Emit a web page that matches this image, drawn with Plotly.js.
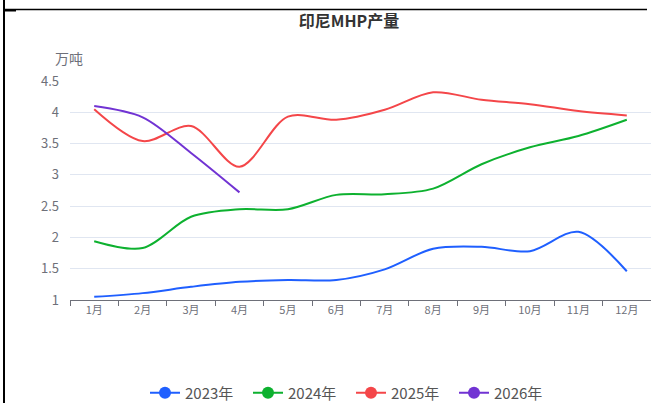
<!DOCTYPE html>
<html>
<head>
<meta charset="utf-8">
<script src="https://cdn.plot.ly/plotly-3.0.1.min.js"></script>
<style>html,body{margin:0;padding:0;background:#fff;}#chart{width:651px;height:403px;}</style>
</head>
<body>
<div id="chart"></div>
<script>
const months = ['1月','2月','3月','4月','5月','6月','7月','8月','9月','10月','11月','12月'];
const seriesNames = ['2023年','2024年','2025年','2026年'];
const y2023 = [1.05, 1.11, 1.21, 1.29, 1.32, 1.32, 1.49, 1.82, 1.85, 1.78, 2.09, 1.46];
const y2024 = [1.94, 1.83, 2.33, 2.45, 2.45, 2.68, 2.69, 2.78, 3.17, 3.44, 3.62, 3.88];
const y2025 = [4.05, 3.54, 3.78, 3.13, 3.93, 3.88, 4.04, 4.32, 4.20, 4.13, 4.02, 3.95];
const y2026 = [4.10, 3.92, 3.35, 2.72];
const colors = ['#1f5fff', '#0db12f', '#f44649', '#7133d3'];

const allY = [y2023, y2024, y2025, y2026];
const traces = [];
allY.forEach((ys, i) => {
  traces.push({
    x: months.slice(0, ys.length), y: ys, type: 'scatter', mode: 'lines',
    line: {color: colors[i], width: 2, shape: 'spline', smoothing: 0.9},
    showlegend: false, hoverinfo: 'x+y', name: seriesNames[i]
  });
});
allY.forEach((ys, i) => {
  traces.push({
    x: [null], y: [null], type: 'scatter', mode: 'lines+markers',
    line: {color: colors[i], width: 2}, marker: {color: colors[i], size: 12},
    name: seriesNames[i], showlegend: true
  });
});

const L = 70, R = 651, T = 81, B = 300;
const px = v => (v - L) / (R - L);
const py = v => (B - v) / (B - T);

const layout = {
  width: 651, height: 403,
  margin: {l: 70, r: 0, t: 81, b: 103, autoexpand: false},
  paper_bgcolor: '#ffffff', plot_bgcolor: '#ffffff',
  font: {family: '"Noto Sans CJK SC", "Noto Sans", sans-serif', color: '#6e7079'},
  title: {text: '<b>印尼MHP产量</b>', x: 349/651, xanchor: 'center', xref: 'container',
          y: 1 - 21/403, yanchor: 'middle', yref: 'container',
          font: {size: 16, color: '#333333', family: '"Noto Sans CJK SC", sans-serif'}},
  xaxis: {
    type: 'category', categoryorder: 'array', categoryarray: months,
    range: [-0.5, 11.5], tickson: 'boundaries', ticks: 'outside', ticklen: 5,
    tickcolor: '#6e7079', showline: true, linecolor: '#6e7079', linewidth: 1,
    showgrid: false, zeroline: false, tickfont: {size: 11, color: '#6e7079'}, fixedrange: true
  },
  yaxis: {
    range: [1, 4.5], dtick: 0.5, tick0: 1, showgrid: true, gridcolor: '#e0e6f1', gridwidth: 1,
    showline: false, zeroline: false, ticks: '', ticklabelstandoff: 10,
    tickfont: {size: 13, color: '#6e7079'}, fixedrange: true
  },
  legend: {orientation: 'h', x: (145 - L)/(R - L), xanchor: 'left', y: py(393), yanchor: 'middle',
           font: {size: 15, color: '#555555'}, bgcolor: 'rgba(0,0,0,0)', itemwidth: 30, tracegroupgap: 0,
           entrywidth: 58, entrywidthmode: 'pixels'},
  annotations: [{text: '万吨', xref: 'paper', yref: 'paper', x: px(68.5), y: py(58), xanchor: 'center', yanchor: 'middle',
                 showarrow: false, font: {size: 14, color: '#6e7079'}}],
  shapes: [
    {type: 'line', xref: 'paper', yref: 'paper', x0: px(4), x1: px(4), y0: py(0), y1: py(403), line: {color: '#000', width: 2}},
    {type: 'line', xref: 'paper', yref: 'paper', x0: px(4), x1: px(647), y0: py(9.5), y1: py(9.5), line: {color: '#000', width: 1.5}},
    {type: 'line', xref: 'paper', yref: 'paper', x0: px(4), x1: px(16), y0: py(10.5), y1: py(10.5), line: {color: '#000', width: 2}}
  ]
};

Plotly.newPlot('chart', traces, layout, {displayModeBar: false, staticPlot: true});
</script>
</body>
</html>
